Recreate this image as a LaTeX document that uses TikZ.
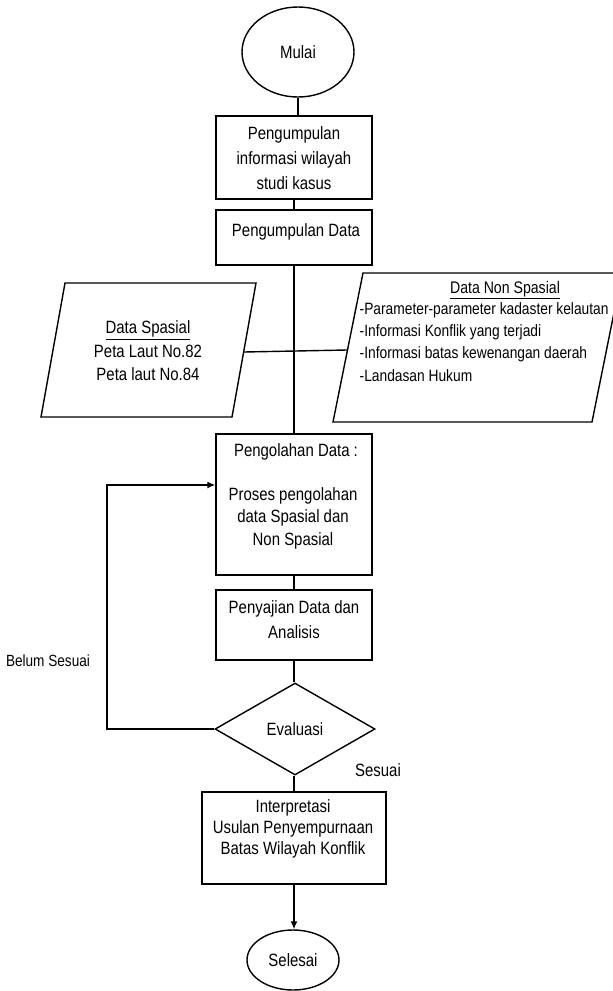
\documentclass[tikz,border=0pt]{standalone}
\usepackage{fontspec}
\setmainfont{Liberation Sans}[FakeStretch=0.84]
\usetikzlibrary{arrows.meta,shapes.geometric}
\begin{document}
\begin{tikzpicture}[x=1pt,y=-1pt,line width=1.4pt,
  box/.style={draw,rectangle,inner sep=0pt,minimum width=156pt},
  txt/.style={align=center,inner sep=0pt,font=\fontsize{17.8}{24}\selectfont},
  ltxt/.style={anchor=west,inner sep=0pt,font=\fontsize{16.4}{22}\selectfont},
  arr/.style={-{Latex[length=8pt,width=7pt]}}]
\useasboundingbox (0,0) rectangle (613,991);
\fill[white] (0,0) rectangle (613,991);
% terminals
\node[draw,ellipse,minimum width=112pt,minimum height=90pt,inner sep=0pt,font=\fontsize{17.8}{24}\selectfont] (mulai) at (298,52) {Mulai};
\node[draw,ellipse,minimum width=92pt,minimum height=60pt,inner sep=0pt,font=\fontsize{17.8}{24}\selectfont] (selesai) at (293,960) {Selesai};
% boxes
\node[box,minimum height=83pt] (b1) at (294,157.5) {};
\node[txt,font=\fontsize{17.8}{25}\selectfont] (t1) at (294,158) {Pengumpulan\\informasi wilayah\\studi kasus};
\node[box,minimum height=55pt] (b2) at (294,237.5) {};
\node[txt] (t2) at (296,232) {Pengumpulan Data};
\node[box,minimum height=141pt] (proc) at (294,504.5) {};
\node[txt] (t3a) at (296,452) {Pengolahan Data :};
\node[txt,font=\fontsize{17.8}{22.5}\selectfont] (t3b) at (293,518) {Proses pengolahan\\data Spasial dan\\Non Spasial};
\node[box,minimum height=70pt] (pen) at (294,625) {};
\node[txt,font=\fontsize{17.8}{25}\selectfont] (t4) at (294,619.5) {Penyajian Data dan\\Analisis};
\node[draw,diamond,minimum width=160pt,minimum height=92pt,inner sep=0pt,font=\fontsize{17.8}{24}\selectfont] (eval) at (295,729) {Evaluasi};
\node[box,minimum width=184pt,minimum height=92pt] (interp) at (294,838) {};
\node[txt,font=\fontsize{17.8}{21}\selectfont] (t5) at (293,829) {Interpretasi\\Usulan Penyempurnaan\\Batas Wilayah Konflik};
% parallelograms
\draw (65,283) -- (256,283) -- (232,417) -- (41,417) -- cycle;
\node[txt,font=\fontsize{17.8}{23.5}\selectfont] (sp) at (148,351) {\underline{Data Spasial}\\Peta Laut No.82\\Peta laut No.84};
\draw (363,273) -- (622,273) -- (592,422) -- (333,422) -- cycle;
\node[txt,font=\fontsize{16.8}{22}\selectfont] (nsh) at (505,290) {\underline{Data Non Spasial}};
\node[ltxt] (ns1) at (359,310) {-Parameter-parameter kadaster kelautan};
\node[ltxt] (ns2) at (359,332) {-Informasi Konflik yang terjadi};
\node[ltxt] (ns3) at (359,354) {-Informasi batas kewenangan daerah};
\node[ltxt] (ns4) at (359,376) {-Landasan Hukum};
\coordinate (sR) at (244,352);
\coordinate (nL) at (347,350);
% connectors
\draw (mulai.south) -- (mulai.south |- b1.north);
\draw (b1.south) -- (b2.north);
\draw (b2.south) -- (proc.north);
\draw (sR) -- (nL);
\draw (proc.south) -- (pen.north);
\draw (pen.south) -- (pen.south |- eval.north);
\coordinate (loopA) at (107,729);
\coordinate (loopB) at (107,485);
\draw[arr] (eval.west) -- (loopA) -- (loopB) -- (loopB -| proc.west);
\draw (pen.south |- eval.south) -- (interp.north);
\draw[arr] (interp.south) -- (interp.south |- selesai.north);
% labels
\node[txt,font=\fontsize{16.2}{24}\selectfont] (belum) at (48,661) {Belum Sesuai};
\node[txt] (sesuai) at (378,770) {Sesuai};
\end{tikzpicture}
\end{document}
